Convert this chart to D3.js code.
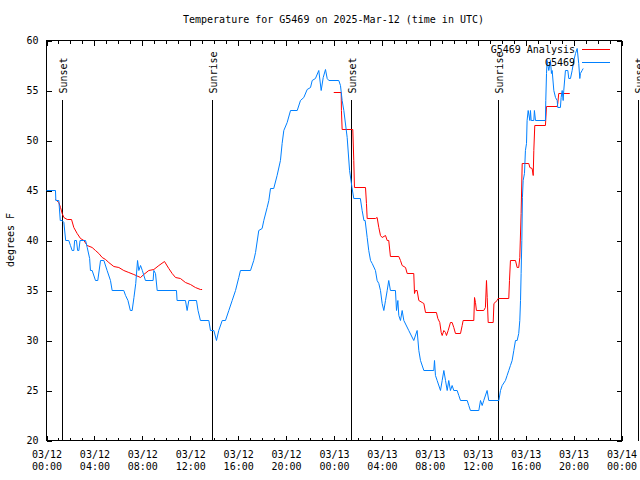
<!DOCTYPE html>
<html>
<head>
<meta charset="utf-8">
<script src="https://cdn.jsdelivr.net/npm/d3@7"></script>
<style>
  html, body { margin: 0; padding: 0; background: #fff; }
  svg { display: block; }
  text { font-family: "DejaVu Sans Mono", "Liberation Mono", monospace; font-size: 10px; fill: #000; }
</style>
</head>
<body>
<svg id="chart" width="640" height="480"></svg>
<script>
// ---------------- DATA ----------------
const titleText = "Temperature for G5469 on 2025-Mar-12 (time in UTC)";
const yLabelText = "degrees F";
const startISO = "2025-03-12T00:00:00Z";
const endISO = "2025-03-14T00:00:00Z";
const yTicks = [20, 25, 30, 35, 40, 45, 50, 55, 60];
const xTickLabels = [
  ["03/12","00:00"],["03/12","04:00"],["03/12","08:00"],["03/12","12:00"],
  ["03/12","16:00"],["03/12","20:00"],["03/13","00:00"],["03/13","04:00"],
  ["03/13","08:00"],["03/13","12:00"],["03/13","16:00"],["03/13","20:00"],["03/14","00:00"]
];
const seriesNames = ["G5469 Analysis", "G5469"];

// Observations (hours after 03/12 00:00 UTC, degrees F)
const obsHours = [0,0.75,0.78,1.03,1.15,1.31,1.45,1.6,1.86,2.0,2.14,2.28,2.35,2.5,2.6,2.7,2.8,3.26,3.4,3.6,3.67,3.81,4.09,4.28,4.51,4.79,5.06,5.34,5.48,6.45,6.6,6.8,7.0,7.15,7.3,7.45,7.6,7.71,7.85,8.0,8.26,8.9,8.96,9.1,9.24,10.85,10.9,11.6,11.74,11.88,12.52,12.65,12.85,13.55,13.69,13.97,14.19,14.38,14.67,14.94,15.22,15.5,15.78,16.05,16.19,17.03,17.3,17.45,17.72,18.0,18.14,18.42,18.56,18.7,18.97,19.25,19.53,19.67,19.81,20.09,20.37,20.93,21.2,21.48,21.76,22.04,22.18,22.45,22.73,22.93,23.1,23.29,23.43,23.57,24.4,24.54,24.68,24.82,25.1,25.3,25.5,25.65,26.2,26.35,26.5,26.6,26.77,26.9,27.05,27.19,27.46,27.6,27.74,27.88,28.02,28.16,28.3,28.44,28.57,28.71,29.13,29.22,29.33,29.41,29.55,29.69,29.83,30.24,30.66,30.94,31.08,31.22,31.5,32.33,32.39,32.47,32.61,32.89,33.03,33.17,33.31,33.45,33.58,33.72,33.86,34.0,34.28,34.42,34.56,35.12,35.25,35.39,36.09,36.23,36.37,36.5,36.78,36.92,37.76,37.9,38.04,38.31,38.45,38.59,38.73,38.87,39.01,39.15,39.29,39.42,39.51,39.57,39.62,39.68,39.73,39.79,39.9,39.98,40.07,40.12,40.21,40.35,40.4,40.46,40.68,40.73,40.82,41.65,41.68,41.74,41.79,41.93,42.07,42.15,42.21,42.35,42.49,42.63,42.68,42.9,42.96,43.05,43.13,43.18,43.32,43.52,43.6,43.74,43.88,44.02,44.16,44.3,44.43,44.52,44.57,44.71,44.8];
const obsTemps = [45,45,44,44,42,42,41.8,40,40,39.5,39,39,40,40,39,39,40,40,39.3,38.2,37,37,36,36,38,38,37,36,35,35,34.5,34,33,33,34.3,35.7,38,37,37.5,37,36,36,37,36.7,35,35,34,34,33,34,34,33,32,32,31,31,30,31,32,32,33,34,35,36.3,37,37,38,38.8,41,41.2,42,43.3,44,45.2,45.2,46.5,48,49.7,51,51.8,53,53,54,54.3,55.1,55.3,56,56.2,57,55,56.3,57.1,56.2,56,56,55.5,54,53,50.3,47,45.3,44.2,44.2,43,42,42,40.3,39,38,37.7,37,36,35.7,35,33.7,33,34,35,36,35,35,33,34,32.5,32,33,32,31,30,31,29,28,27,27,28,26.5,26,25,26,27,26,25,26,25,25.5,25,25,24.5,24,24,23.5,23,23,24,23.5,24,25,24,24,25,25.5,26,26.5,27,27.5,28,29,30,30,30.7,32,34,36.7,40,44.3,46,46.7,49,49.7,52,53,52,53,52,52,53,52,52,54,56.7,58,57,58,56.7,57,55,54.3,54,53.3,53.3,54.3,55,54,55,57,57,56.2,56.2,57,58,58.7,59.2,57.7,56.2,56.7,57,57.2];

// Analysis, first run
const anaHoursA = [0.75,1.03,1.17,1.31,1.45,1.73,2.09,2.28,2.56,2.84,3.12,3.4,3.81,4.09,4.37,4.65,4.93,5.2,5.62,6.04,6.45,6.87,7.29,7.85,8.12,8.54,8.96,9.38,9.85,10.21,10.49,10.77,11.18,11.6,12.02,12.43,12.85,12.99];
const anaTempsA = [44.1,43.8,43.3,42.7,42.3,42.1,42.1,41.3,40.7,40.2,40,39.5,39.3,39,38.7,38.3,38.1,37.8,37.4,37.3,37,36.8,36.6,36.3,36.6,37,37.1,37.5,37.9,37.2,36.7,36.3,36.2,35.8,35.6,35.3,35.1,35.1];
// Analysis, second run
const anaHoursB = [23.98,24.6,24.62,24.68,25.57,25.65,25.71,26.63,26.71,26.77,27.46,27.6,27.74,27.88,28.02,28.3,28.44,28.57,28.71,29.41,29.55,29.69,29.97,30.11,30.66,30.72,30.8,30.94,31.08,31.36,31.5,31.64,32.55,32.67,32.83,32.95,33.03,33.17,33.31,33.39,33.53,33.72,33.86,34.0,34.14,34.56,34.7,34.78,35.67,35.73,35.81,35.89,36.5,36.64,36.73,36.79,36.87,37.29,37.35,37.62,37.7,38.59,38.65,38.73,39.15,39.29,39.42,39.51,39.62,39.71,40.26,40.35,40.54,40.63,40.68,40.76,41.65,41.74,42.63,42.68,42.76,43.68];
const anaTempsB = [54.8,54.8,53,51.1,51.1,48,45.3,45.3,43.7,42.2,42.2,42.3,41.3,40.5,40.3,40.5,40,40,38.4,38.4,38,37.5,37.3,36.7,36.7,34.7,35,35,34,33.8,33.7,32.8,32.8,32.2,31.8,30.8,30.5,31,30.8,30.5,31,31.8,31.8,31.3,30.7,30.7,31.5,32,32,34.3,33.8,33,33,33.3,36,34.3,31.8,31.8,33.7,34,34.2,34.2,36,38,38,37.3,37.3,38.3,42.7,47.7,47.7,47.3,47.2,46.5,49,51.5,51.5,53.4,53.4,53.7,54.7,54.7];

// Sun events
const sunLabels = ["Sunset","Sunrise","Sunset","Sunrise","Sunset"];
const sunHours = [1.36, 13.83, 25.43, 37.76, 49.44];

// ---------------- CHART ----------------
const red = "#ff0000", blue = "#0080ff";
const svg = d3.select("#chart");
const t0 = new Date(startISO);
const toDate = h => new Date(t0.getTime() + h * 3600e3);

const x = d3.scaleUtc().domain([t0, new Date(endISO)]).range([46, 621]);
const y = d3.scaleLinear().domain([20, 60]).range([440, 40]);

const root = svg.append("g").attr("transform", "translate(0.5,0.5)");

// frame
root.append("rect").attr("x", x.range()[0]).attr("y", y.range()[1])
  .attr("width", x.range()[1] - x.range()[0]).attr("height", y.range()[0] - y.range()[1])
  .attr("fill", "none").attr("stroke", "#000").attr("shape-rendering", "crispEdges");

const hourTicks = d3.utcHour.every(1).range(x.domain()[0], new Date(x.domain()[1].getTime() + 1));
const majorTicks = d3.utcHour.every(4).range(x.domain()[0], new Date(x.domain()[1].getTime() + 1));

function styleAxis(g) {
  g.select(".domain").remove();
  g.selectAll("line").attr("stroke", "#000").attr("shape-rendering", "crispEdges");
  g.attr("font-family", null).attr("font-size", null);
}

// bottom minor + major
root.append("g").attr("transform", `translate(0,${y(20)})`)
  .call(d3.axisBottom(x).tickValues(hourTicks).tickSize(-3).tickFormat(""))
  .call(styleAxis);
const bottom = root.append("g").attr("transform", `translate(0,${y(20)})`)
  .call(d3.axisBottom(x).tickValues(majorTicks).tickSize(-5).tickPadding(0).tickFormat((d, i) => i))
  .call(styleAxis);
bottom.selectAll("text").each(function(d, i) {
  const el = d3.select(this);
  el.text(null).attr("dy", null).attr("y", null);
  el.append("tspan").attr("x", 0).attr("y", 17).text(xTickLabels[i][0]);
  el.append("tspan").attr("x", 0).attr("y", 29).text(xTickLabels[i][1]);
});
// top mirrors
root.append("g").attr("transform", `translate(0,${y(60)})`)
  .call(d3.axisTop(x).tickValues(hourTicks).tickSize(-3).tickFormat(""))
  .call(styleAxis);
root.append("g").attr("transform", `translate(0,${y(60)})`)
  .call(d3.axisTop(x).tickValues(majorTicks).tickSize(-5).tickFormat(""))
  .call(styleAxis);
// left / right
root.append("g").attr("transform", `translate(${x.range()[0]},0)`)
  .call(d3.axisLeft(y).tickValues(yTicks).tickSize(-5).tickPadding(8).tickFormat(d3.format("d")))
  .call(styleAxis);
root.append("g").attr("transform", `translate(${x.range()[1]},0)`)
  .call(d3.axisRight(y).tickValues(yTicks).tickSize(-5).tickFormat(""))
  .call(styleAxis);

// sun lines
const sun = root.append("g");
sunHours.forEach((h, i) => {
  const sx = Math.round(x(toDate(h)));
  sun.append("line").attr("x1", sx).attr("x2", sx).attr("y1", 99).attr("y2", y(20))
    .attr("stroke", "#000").attr("shape-rendering", "crispEdges");
  sun.append("text").attr("transform", `translate(${sx + 4},93) rotate(-90)`)
    .attr("text-anchor", "start").text(sunLabels[i]);
});

// lines
const line = d3.line().x(d => x(toDate(d[0]))).y(d => y(d[1]));
const anaA = anaHoursA.map((h, i) => [h, anaTempsA[i]]);
const anaB = anaHoursB.map((h, i) => [h, anaTempsB[i]]);
const obs = obsHours.map((h, i) => [h, obsTemps[i]]);
root.append("path").datum(anaA).attr("d", line).attr("fill", "none").attr("stroke", red).attr("stroke-width", 1);
root.append("path").datum(anaB).attr("d", line).attr("fill", "none").attr("stroke", red).attr("stroke-width", 1);
root.append("path").datum(obs).attr("d", line).attr("fill", "none").attr("stroke", blue).attr("stroke-width", 1);

// title & y label
svg.append("text").attr("x", (x.range()[0] + x.range()[1]) / 2).attr("y", 23)
  .attr("text-anchor", "middle").text(titleText);
svg.append("text").attr("transform", "translate(14,240) rotate(-90)")
  .attr("text-anchor", "middle").text(yLabelText);

// legend
const legendColors = [red, blue];
seriesNames.forEach((name, i) => {
  const ly = 49 + i * 13;
  svg.append("text").attr("x", 575).attr("y", ly + 4).attr("text-anchor", "end").text(name);
  svg.append("line").attr("x1", 582).attr("x2", 610).attr("y1", ly + 0.5).attr("y2", ly + 0.5)
    .attr("stroke", legendColors[i]).attr("shape-rendering", "crispEdges");
});
</script>
</body>
</html>
